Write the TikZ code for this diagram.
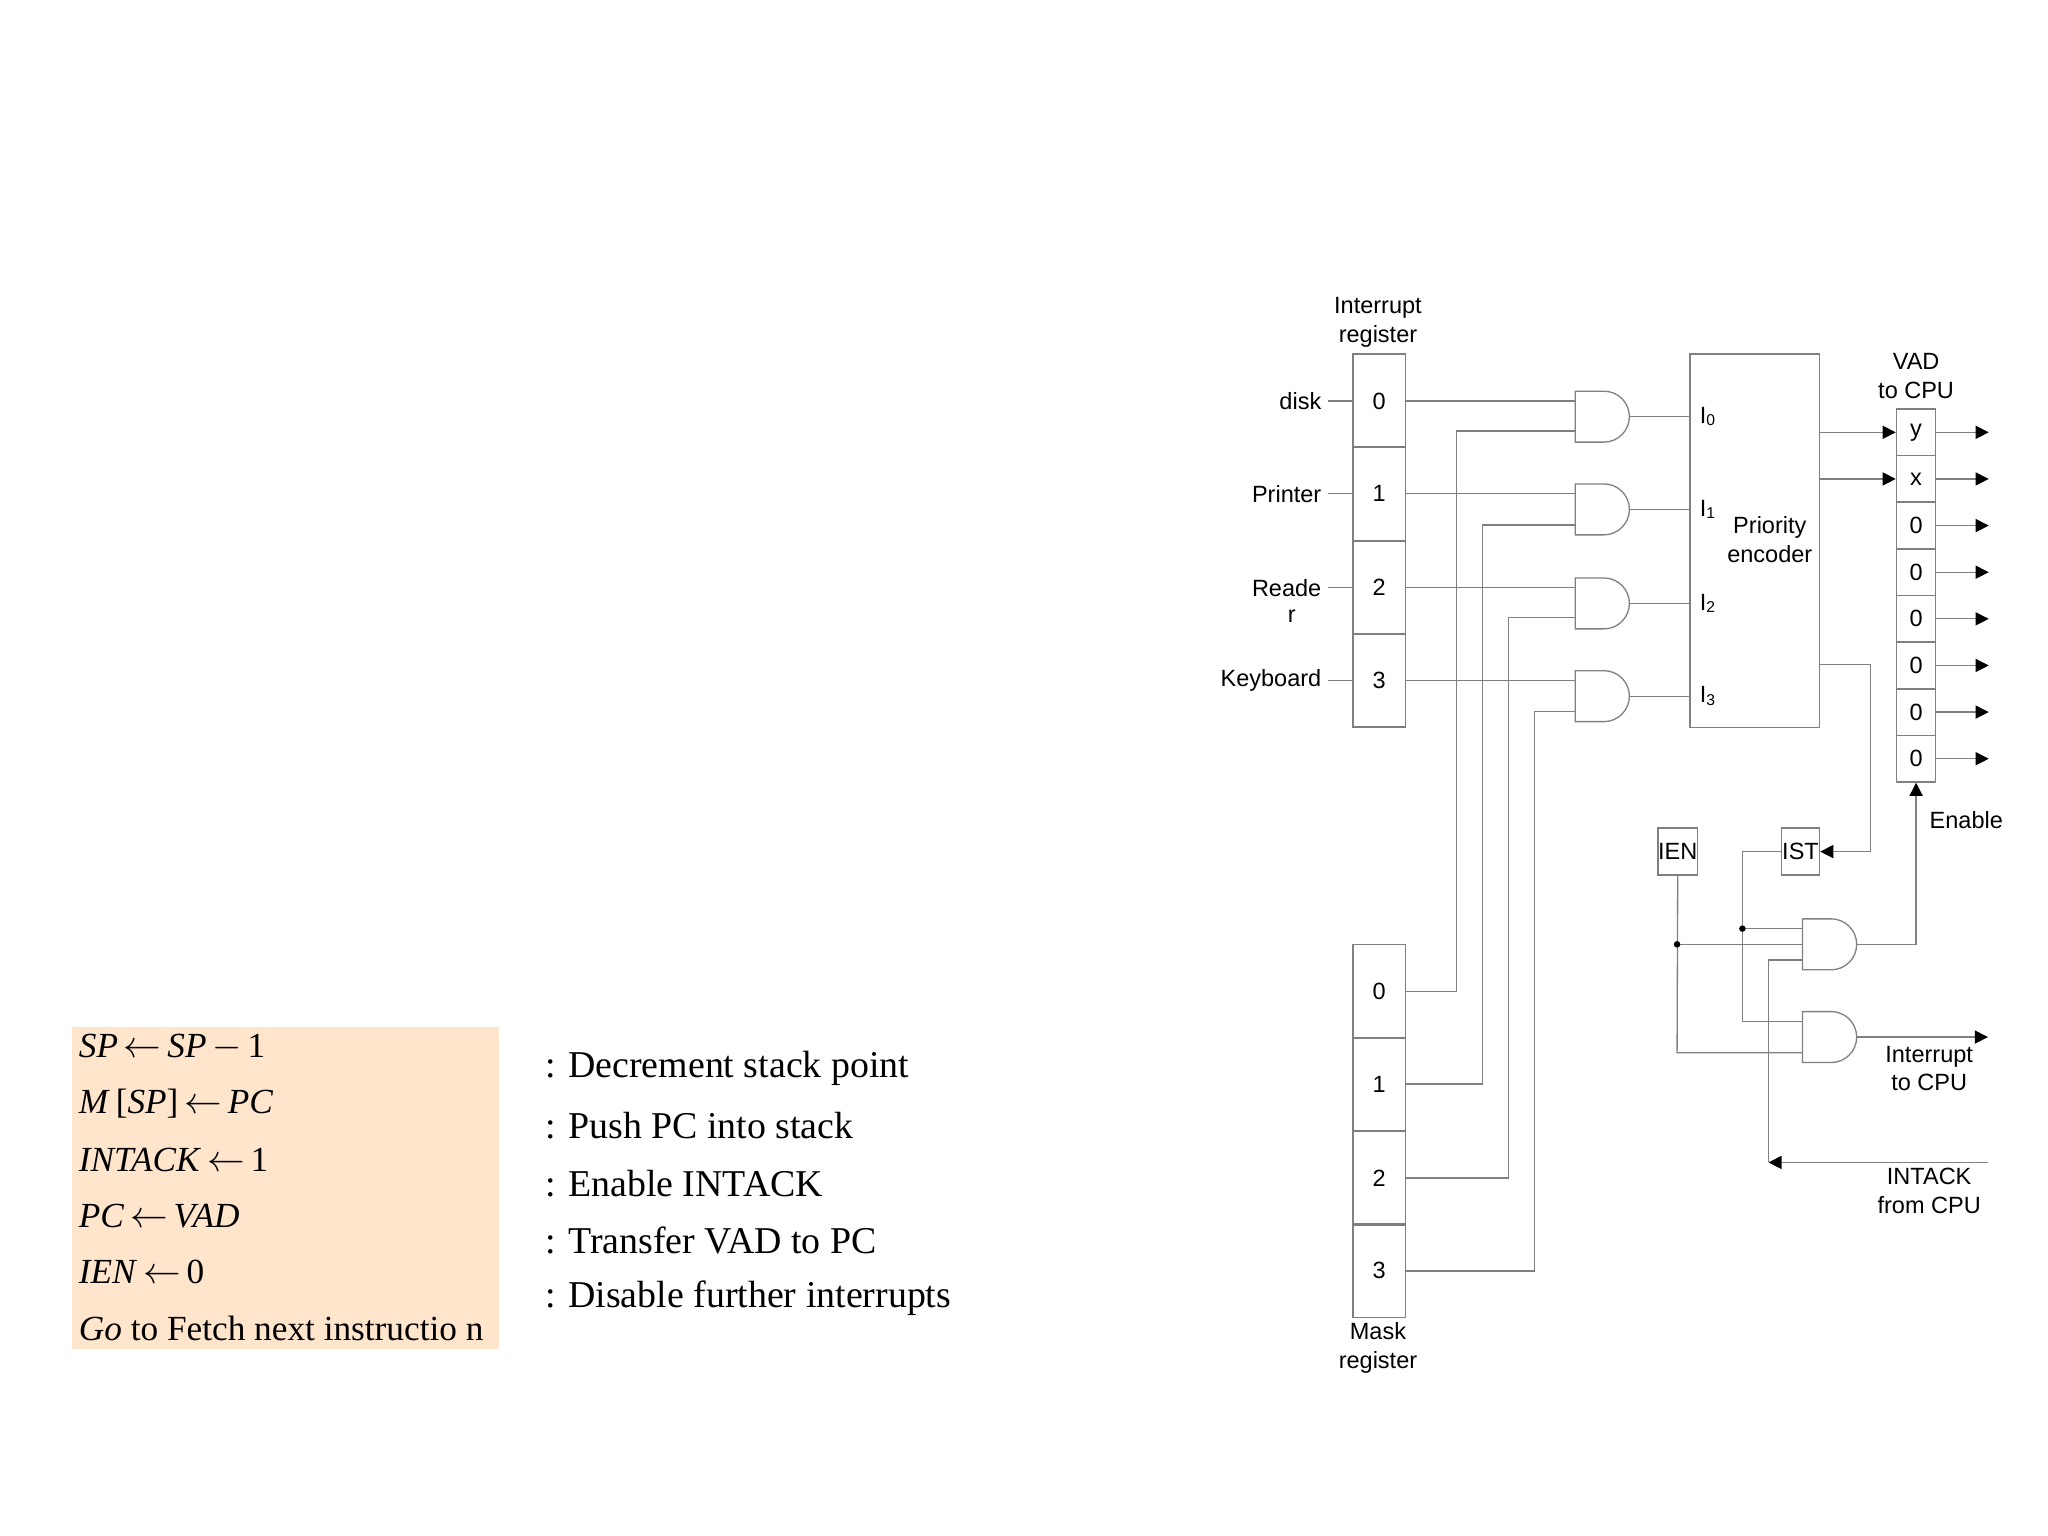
\documentclass[tikz,border=0pt]{standalone}
\usepackage{fontspec}
\setmainfont{Liberation Serif}
\newfontfamily\lab{Liberation Sans}
\usetikzlibrary{arrows.meta}
\newcommand\la{\,$\leftarrow$\,}
\begin{document}
\begin{tikzpicture}[x=0.5pt,y=-0.5pt,
  w/.style={draw=black!50,line width=0.5pt},
  cell/.style={draw=black!50,line width=0.6pt,minimum width=20pt,minimum height=35.75pt,inner sep=0pt,font=\lab\fontsize{9}{11}\selectfont},
  vcell/.style={draw=black!50,line width=0.6pt,minimum width=15pt,minimum height=17.8pt,inner sep=0pt,font=\lab\fontsize{9}{11}\selectfont},
  sbox/.style={draw=black!50,line width=0.6pt,minimum width=14.5pt,minimum height=18pt,inner sep=0pt,font=\lab\fontsize{9}{11}\selectfont},
  lbl/.style={font=\lab\fontsize{9}{11}\selectfont,inner sep=0pt,align=center},
  arr/.style={w,-{Triangle[length=5pt,width=5pt,color=black]}},
  dot/.style={circle,fill=black,inner sep=0pt,minimum size=2.5pt},
  mt/.style={anchor=west,inner sep=0pt,font=\fontsize{13.5}{15}\selectfont},
  dt/.style={anchor=west,inner sep=0pt,font=\fontsize{14.5}{16}\selectfont}]
\useasboundingbox (0,0) rectangle (1568,1176);
\newcommand\gate[2]{\draw[w] (#1,#2-19.5) -- (#1+22,#2-19.5) arc[start angle=-90,end angle=90,radius=19.5] -- (#1,#2+19.5) -- cycle;}
% left panel
\fill[orange!20] (55,786) rectangle (382,1033);
\node[mt] (m1) at (60,802) {\textit{SP}\la\textit{SP}\,$-$\,1};
\node[mt] (m2) at (60,845) {\textit{M}\,[\textit{SP}]\la\textit{PC}};
\node[mt] (m3) at (60,888) {\textit{INTACK}\la1};
\node[mt] (m4) at (60,931) {\textit{PC}\la\textit{VAD}};
\node[mt] (m5) at (60,974) {\textit{IEN}\la0};
\node[mt] (m6) at (60,1017) {\textit{Go} to Fetch next instructio n};
\node[dt] (d1) at (417,818) {: Decrement stack point};
\node[dt] (d2) at (417,862) {: Push PC into stack};
\node[dt] (d3) at (417,906) {: Enable INTACK};
\node[dt] (d4) at (417,950) {: Transfer VAD to PC};
\node[dt] (d5) at (417,994) {: Disable further interrupts};
% interrupt register
\foreach \i/\y in {0/307,1/378,2/450,3/521} {\node[cell] (r\i) at (1056,\y) {\i};}
\foreach \i/\y in {0/759,1/830,2/902,3/973} {\node[cell] (k\i) at (1056,\y) {\i};}
\node[lbl] (irl) at (1055,247) {Interrupt\\register};
\node[lbl] (mrl) at (1055,1032) {Mask\\register};
\node[lbl,anchor=east] (ld) at (1012,307) {disk};
\node[lbl,anchor=east] (lp) at (1012,378) {Printer};
\node[lbl,anchor=east] (lr) at (1012,450) {Reade};
\node[lbl] (lr2) at (989,472) {r};
\node[lbl,anchor=east] (lk) at (1012,521) {Keyboard};
\foreach \y in {307,378,450,521} \draw[w] (1017,\y) -- (1036,\y);
% gates
\foreach \i/\y in {0/319,1/390,2/462,3/533} {\gate{1206}{\y} \coordinate (g\i) at (1247.5,\y);}
\foreach \y in {307,378,450,521} \draw[w] (1076,\y) -- (1206,\y);
\draw[w] (k0.east) -- (1115,759) -- (1115,330) -- (1206,330);
\draw[w] (k1.east) -- (1135,830) -- (1135,402) -- (1206,402);
\draw[w] (k2.east) -- (1155,902) -- (1155,473) -- (1206,473);
\draw[w] (k3.east) -- (1175,973) -- (1175,545) -- (1206,545);
% encoder
\node[draw=black!50,line width=0.6pt,minimum width=49.5pt,minimum height=143pt,inner sep=0pt] (enc) at (1343.5,414) {};
\node[lbl] (pel) at (1355,413) {Priority\\encoder};
\foreach \i/\y in {0/319,1/390,2/462,3/533} {\draw[w] (g\i) -- (1294,\y); \node[lbl,anchor=west] (I\i) at (1301,\y) {I\raisebox{-1pt}{\fontsize{6}{7}\selectfont\i}};}
% VAD
\foreach \j/\t in {0/y,1/x,2/0,3/0,4/0,5/0,6/0,7/0} {\node[vcell] (v\j) at (1467,331+35.7*\j) {\t}; \draw[arr] (v\j.east) -- +(40,0);}
\node[lbl] (vadl) at (1467,288) {VAD\\to CPU};
\draw[arr] (1393,331) -- (v0.west);
\draw[arr] (1393,366.7) -- (v1.west);
% IST / IEN
\node[sbox] (ist) at (1378.5,652) {IST};
\node[sbox] (ien) at (1284.5,652) {IEN};
\draw[arr] (1393,509) -- (1432,509) -- (1432,652) -- (ist.east);
% control gates
\gate{1380}{723} \coordinate (ga) at (1421.5,723);
\gate{1380}{794} \coordinate (gb) at (1421.5,794);
\draw[arr] (ga) -- (1467,723) -- (v7.south);
\node[lbl,anchor=west] (enl) at (1477,628) {Enable};
\draw[w] (ist.west) -- (1334,652) -- (1334,782) -- (1380,782);
\draw[w] (1334,711) -- (1380,711);
\node[dot] (d1p) at (1334,711) {};
\draw[w] (ien.south) -- (1284,806) -- (1380,806);
\draw[w] (1284,723) -- (1380,723);
\node[dot] (d2p) at (1284,723) {};
\coordinate (ia) at (1522,890);
\draw[arr] (ia) -- (1354,890);
\draw[w] (1354,890) -- (1354,735) -- (1380,735);
\draw[arr] (gb) -- (1522,794);
\node[lbl] (itc) at (1477,818) {Interrupt\\to CPU};
\node[lbl] (ifc) at (1477,912) {INTACK\\from CPU};
\end{tikzpicture}
\end{document}
